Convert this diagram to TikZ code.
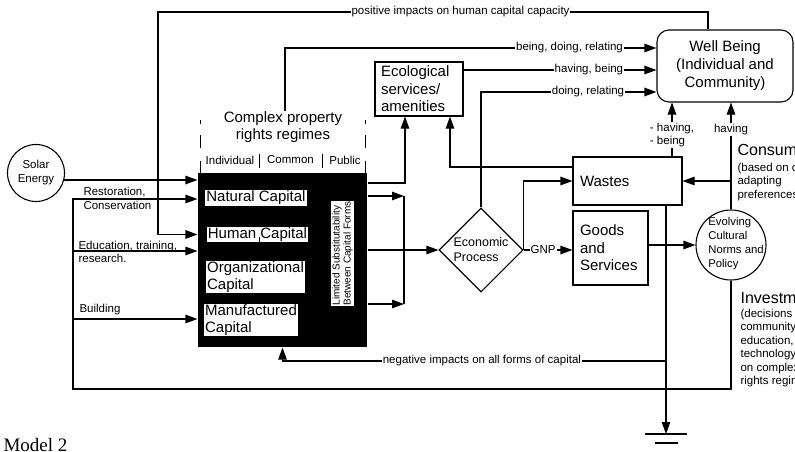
\documentclass[tikz,border=0pt]{standalone}
\usepackage{fontspec}
\setmainfont{Liberation Sans}
\newfontfamily\modelfont{Liberation Serif}
\usetikzlibrary{shapes.geometric,arrows.meta}

\tikzset{
  >={Triangle[length=12pt,width=8.5pt]},
  box/.style={draw, align=left, inner sep=0pt, font=\fontsize{15}{17.5}\selectfont},
  capbox/.style={fill=white, align=left, inner sep=1pt, font=\fontsize{15}{17}\selectfont},
  lbl/.style={fill=white, inner sep=1pt, font=\fontsize{11.5}{13.5}\selectfont},
  smalltext/.style={inner sep=0pt, font=\fontsize{11.5}{13.5}\selectfont},
  bigtext/.style={inner sep=0pt, font=\fontsize{15}{17}\selectfont},
}

\begin{document}
\begin{tikzpicture}[x=1pt, y=-1pt, line width=1.1pt]
    \useasboundingbox (0, 0) rectangle (795, 452);
    \clip (0, 0) rectangle (795, 452);

    % nodes
    \path ( 36, 173) node [draw, circle, minimum size=57pt, inner sep=0pt, align=center,
        font=\fontsize{11.5}{14}\selectfont] (solar) {Solar\\Energy};
    \path (282.5, 260) node [fill=black, minimum width=169pt, minimum height=174pt, inner sep=0pt] (capital) {};
    \path (256, 198) node [capbox] (natural) {Natural Capital};
    \path (257.5, 234.5) node [capbox] (human) {Human Capital};
    \path (255.5, 277) node [capbox] (organizational) {Organizational\\Capital};
    \path (251, 320) node [capbox] (manufactured) {Manufactured\\Capital};
    \path (342.5, 253.5) node [capbox, rotate=90, font=\fontsize{10}{11}\selectfont] (substitution)
        {Limited Substitutability\\Between Capital Forms};
    \path (283, 127) node [bigtext, align=center] (regimes) {Complex property\\rights regimes};
    \path (230, 160) node [smalltext] (individual) {Individual};
    \path (290.5, 160) node [smalltext] (common) {Common};
    \path (345, 160) node [smalltext] (public) {Public};
    \path (419, 89) node [box, minimum width=88pt, minimum height=54pt, text width=76pt] (ecological)
        {Ecological\\services/\\amenities};
    \path (725, 66) node [draw, rounded corners=12pt, minimum width=136pt, minimum height=72pt,
        align=center, font=\fontsize{15}{18}\selectfont] (wellbeing) {Well Being\\(Individual and\\Community)};
    \path (481, 250) node [draw, diamond, minimum width=84pt, minimum height=84pt, inner sep=0pt,
        align=left, font=\fontsize{12.5}{15}\selectfont] (economic) {Economic\\Process};
    \path (627.5, 181) node [box, minimum width=109pt, minimum height=48pt, text width=95pt] (wastes) {Wastes};
    \path (610.5, 248) node [box, minimum width=75pt, minimum height=74pt, text width=61pt] (goods)
        {Goods\\and\\Services};
    \path (731, 245) node [draw, circle, minimum size=70pt, inner sep=0pt] (norms) {};
    \path (736, 244) node [inner sep=0pt, align=left, font=\fontsize{11.3}{14}\selectfont] (normsText)
        {Evolving\\Cultural\\Norms and\\Policy};
    \path (737, 155) node [bigtext, anchor=base west, font=\fontsize{16}{18}\selectfont] (consumption) {Consumption};
    \path (737, 162.6) node [smalltext, anchor=north west, align=left] (consumptionNote)
        {(based on changing,\\adapting\\preferences)};
    \path (740, 303) node [bigtext, anchor=base west, font=\fontsize{16}{18}\selectfont] (investment) {Investment};
    \path (740, 308.6) node [smalltext, anchor=north west, align=left] (investmentNote)
        {(decisions about\\community,\\education,\\technology,\\on complex property\\rights regimes)};
    \path (83, 195) node [smalltext, anchor=base west] (restoration) {Restoration,};
    \path (83, 209) node [smalltext, anchor=base west] (conservation) {Conservation};
    \path (78, 249) node [smalltext, anchor=base west] (education) {Education, training,};
    \path (78, 262) node [smalltext, anchor=base west] (research) {research.};
    \path (79, 312) node [smalltext, anchor=base west] (building) {Building};
    \path (3, 451) node [anchor=base west, inner sep=0pt, font=\modelfont\fontsize{19}{22}\selectfont] (model) {Model 2};

    % helper points
    \coordinate (posL) at (158, 12);
    \coordinate (posR) at (708, 12);
    \coordinate (bdr) at (285, 48);
    \coordinate (hb) at (463, 70);
    \coordinate (dr) at (481, 92);
    \coordinate (ecoIn) at (405, 183);
    \coordinate (wasteOut) at (450, 167);
    \coordinate (barTop) at (404, 196);
    \coordinate (barBot) at (404, 304);
    \coordinate (restore) at (73, 199);
    \coordinate (educate) at (73, 251);
    \coordinate (build) at (73, 319);
    \coordinate (loopL) at (73, 389);
    \coordinate (neg) at (666, 361);
    \coordinate (havingX) at (672, 130);
    \coordinate (ground) at (666, 434);

    % property rights brackets and columns
    \draw [line width=1pt, dash pattern=on 4pt off 11pt on 13pt off 13pt on 12pt] (200, 120) -- (200, 173);
    \draw [line width=1pt, dash pattern=on 4pt off 11pt on 13pt off 13pt on 12pt] (365, 120) -- (365, 173);
    \draw [line width=1pt] (259, 154) -- (259, 168);
    \draw [line width=1pt] (322, 154) -- (322, 168);
    \draw [line width=0.8pt] (259, 237) -- (259, 243);

    % connectors
    \draw [->] (posR |- wellbeing.north) -- (posR)
        -- node [lbl, pos=0.45] {positive impacts on human capital capacity} (posL)
        |- (capital.west |- human);
    \draw [->] (bdr |- regimes.north) |- node [lbl, pos=0.883] {being, doing, relating} (wellbeing.west |- bdr);
    \draw [->] (ecological.east |- hb) -- node [lbl, pos=0.65] {having, being} (wellbeing.west |- hb);
    \draw [->] (economic.north) |- node [lbl, pos=0.805] {doing, relating} (wellbeing.west |- dr);
    \draw [->] (capital.east |- ecoIn) -| (ecological.south -| ecoIn);
    \draw [->] (wastes.west |- wasteOut) -| (ecological.south -| wasteOut);
    \draw [->] (capital.east |- barTop) -- (barTop);
    \draw [->] (capital.east |- barBot) -- (barBot);
    \draw (barTop) -- (barBot);
    \draw [->] (capital.east |- economic) -- (economic.west);
    \draw [->] (solar.-14) -- (capital.west |- solar.-14);
    \draw [->] (norms.south) |- (loopL) |- (capital.west |- restore);
    \draw [->] (educate) -- (capital.west |- educate);
    \draw [->] (build) -- (capital.west |- build);
    \draw [->] (economic.east) -- node [lbl, pos=0.4] {GNP} (goods.west |- economic);
    \draw [->] (economic.east) |- (wastes.west);
    \draw [->] (goods.east |- norms) -- (norms.west);
    \draw [->] (wastes.north -| havingX) -- node [lbl, align=left, pos=0.4] {- having,\\- being} (wellbeing.south -| havingX);
    \draw [->] (norms.north) -- node [lbl, pos=0.75] {having} (wellbeing.south -| norms.north);
    \draw [->] (norms.north |- wastes.east) -- (wastes.east);
    \draw [->] (wastes.south -| ground) -- (ground);
    \draw [->] (neg) -| node [lbl, pos=0.24] {negative impacts on all forms of capital} (capital.south);
    \draw ([xshift=-21pt]ground) -- ([xshift=21pt]ground);
    \draw ([xshift=-11pt, yshift=-9pt]ground) -- ([xshift=12pt, yshift=-9pt]ground);
\end{tikzpicture}
\end{document}
